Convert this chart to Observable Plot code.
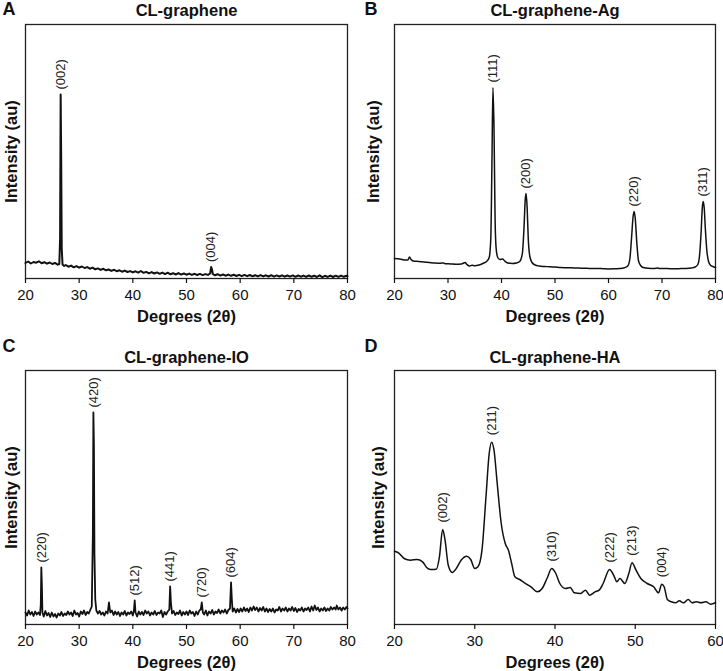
<!DOCTYPE html>
<html>
<head>
<meta charset="utf-8">
<script src="https://cdn.jsdelivr.net/npm/d3@7"></script>
<script src="https://cdn.jsdelivr.net/npm/@observablehq/plot@0.6"></script>
<style>
  html, body { margin: 0; padding: 0; background: #fff; }
  #root { position: relative; width: 723px; height: 671px; background: #fff; overflow: hidden; }
  .panel { position: absolute; }
  .panel svg { display: block; }
</style>
</head>
<body>
<div id="root"></div>
<script>
// ---------- Data (intensity in arbitrary units) ----------
const graphene = [
  [20.0,15.5],[20.5,17],[21.0,15],[21.5,16.5],[22.0,15.8],[22.5,17.2],[23.0,15.2],[23.5,16.3],[24.0,14.8],[24.5,16],
  [25.0,14.5],[25.5,15.6],[26.0,13.8],[26.3,14.5],[26.45,40],[26.55,184],[26.65,120],[26.75,30],[26.9,14],[27.2,12.5],
  [27.5,13.5],[28.0,11.8],[28.5,12.9],[29.0,11.2],[29.5,12.4],[30.0,10.8],[30.5,12],[31.0,10.5],[31.5,11.4],[32.0,9.8],
  [32.5,10.9],[33.0,9.2],[33.5,10.1],[34.0,8.6],[34.5,9.7],[35.0,8.2],[35.5,9],[36.0,7.6],[36.5,8.7],[37.0,7.3],
  [37.5,8.2],[38.0,6.8],[38.5,7.9],[39.0,6.5],[39.5,7.4],[40.0,6.1],[40.5,7.2],[41.0,5.9],[41.5,7.5],[42.0,5.7],
  [42.5,6.6],[43.0,5.2],[43.5,6.4],[44.0,5.0],[44.5,6.1],[45.0,4.7],[45.5,5.9],[46.0,4.4],[46.5,5.8],[47.0,4.2],
  [47.5,5.3],[48.0,4.0],[48.5,5.4],[49.0,3.9],[49.5,5],[50.0,3.8],[50.5,4.9],[51.0,3.6],[51.5,4.7],[52.0,3.5],
  [52.5,4.6],[53.0,3.4],[53.5,4.4],[54.0,3.6],[54.4,5],[54.6,11.5],[54.75,9],[54.9,4.5],[55.3,3.2],[55.8,4.3],
  [56.3,2.9],[56.8,4],[57.3,2.8],[57.8,3.9],[58.3,2.7],[58.8,3.8],[59.3,2.5],[59.8,3.7],[60.3,2.4],[60.8,3.6],
  [61.3,2.3],[61.8,3.5],[62.3,2.2],[62.8,3.3],[63.3,2.1],[63.8,3.4],[64.3,2.1],[64.8,3.2],[65.3,2],[65.8,3.3],
  [66.3,1.9],[66.8,3.1],[67.3,2.0],[67.8,3.2],[68.3,1.8],[68.8,3],[69.3,1.9],[69.8,3.1],[70.3,1.7],[70.8,3],
  [71.3,1.8],[71.8,2.9],[72.3,1.6],[72.8,3],[73.3,1.7],[73.8,2.8],[74.3,1.5],[74.8,3.2],[75.3,1.4],[75.8,2.7],
  [76.3,1.6],[76.8,2.9],[77.3,1.5],[77.8,2.8],[78.3,1.6],[78.8,2.9],[79.3,1.7],[79.8,2.8],[80.0,2.2]
];
const grapheneAg = [
  [20,20],[21,19.5],[22,18.5],[22.5,18.5],[22.8,21.5],[23.1,19],[23.5,17.5],[24.5,17],[25.5,16.5],[26.5,16],
  [27.5,15.5],[28.5,15.2],[29.2,15.6],[29.5,14.8],[30.5,14.6],[31.5,14.3],[32.5,14.5],[33.2,16],[33.5,14.2],[34,12.5],
  [34.5,13.3],[35,12.8],[35.8,13.5],[36.5,15],[37.2,17],[37.7,21],[38.0,40],[38.2,110],[38.4,191],[38.6,150],
  [38.8,60],[39.0,30],[39.3,21],[39.7,19],[40.2,19.5],[40.6,17.5],[41.2,15.5],[42,15],[42.8,15.5],[43.4,17],
  [43.9,25],[44.2,50],[44.45,80],[44.6,85],[44.8,70],[45.0,40],[45.3,22],[45.7,16],[46.3,13.5],[47,12.5],
  [48,12],[49,11.8],[50,11.5],[51,11],[52,10.8],[53,10.7],[54,10.5],[55,10.3],[56,10.2],[57,10],
  [58,10],[59,9.8],[60,9.6],[61,9.7],[62,10],[63,10.8],[63.6,12.5],[64.0,20],[64.3,40],[64.6,62],
  [64.8,67],[65.0,60],[65.3,35],[65.6,18],[66.0,13],[66.5,11],[67.5,10.2],[68.5,10],[69.2,10.5],[69.5,10],
  [70.5,10],[71.5,9.8],[72.5,9.8],[73.5,9.9],[74.5,10],[75.5,10.5],[76.2,11.5],[76.7,14],[77.0,22],[77.3,45],
  [77.55,72],[77.7,77],[77.9,70],[78.1,50],[78.4,27],[78.7,17],[79.1,13],[79.5,12],[80,11]
];
const grapheneIO = [
  [20.0,12],[20.3,9],[20.6,14],[20.9,10],[21.2,12.5],[21.5,8.5],[21.8,13],[22.1,10],[22.4,12],[22.7,9.5],
  [22.85,20],[22.95,57],[23.05,40],[23.15,12],[23.4,8],[23.7,13.5],[24.0,9],[24.3,11.5],[24.6,7.5],[24.9,12],
  [25.2,8],[25.5,10.5],[25.8,7],[26.1,11],[26.4,9],[26.7,12.5],[27.0,8.5],[27.3,11],[27.6,9.5],[27.9,13],
  [28.2,10],[28.5,12],[28.8,8.5],[29.1,14],[29.4,10],[29.7,11.5],[30.0,8],[30.3,13],[30.6,10.5],[30.9,14],
  [31.2,9.5],[31.5,12.5],[31.8,11],[32.1,15],[32.35,18],[32.55,90],[32.65,212],[32.75,180],[32.85,70],[33.0,25],
  [33.2,14],[33.5,11],[33.8,13.5],[34.1,10],[34.4,12],[34.7,9],[35.0,13],[35.3,11],[35.55,22],[35.8,12],
  [36.1,14],[36.4,9.5],[36.7,13],[37.0,10],[37.3,12.5],[37.6,8.5],[37.9,12],[38.2,10],[38.5,13.5],[38.8,9],
  [39.1,12],[39.4,10.5],[39.7,13],[40.0,9],[40.2,14],[40.35,24],[40.5,12],[40.8,8],[41.1,13],[41.4,10],
  [41.7,12.5],[42.0,9.5],[42.3,14],[42.6,11],[42.9,13],[43.2,9],[43.5,12],[43.8,10],[44.1,13.5],[44.4,9.5],
  [44.7,12],[45.0,11],[45.3,14],[45.6,7.5],[45.9,12.5],[46.2,10],[46.5,13],[46.8,15],[46.95,38],[47.1,22],
  [47.3,11],[47.6,13.5],[47.9,9.5],[48.2,12],[48.5,10.5],[48.8,14],[49.1,9],[49.4,12.5],[49.7,10],[50.0,13],
  [50.3,9.5],[50.6,14],[50.9,11],[51.2,12.5],[51.5,8.5],[51.8,13],[52.1,10],[52.4,14],[52.65,15],[52.85,22],
  [53.05,12],[53.3,10],[53.6,14],[53.9,9],[54.2,13],[54.5,11],[54.8,14.5],[55.1,10],[55.4,13],[55.7,11.5],
  [56.0,15],[56.3,11],[56.6,14],[56.9,12],[57.2,15],[57.5,11],[57.8,14.5],[58.1,16],[58.3,42],[58.45,25],
  [58.6,13],[58.9,16],[59.2,12],[59.5,15.5],[59.8,12.5],[60.1,16],[60.4,13],[60.7,17],[61.0,13.5],[61.3,16],
  [61.6,12.5],[61.9,17],[62.2,14],[62.5,18],[62.8,14.5],[63.1,17],[63.4,13],[63.7,16.5],[64.0,14],[64.3,17.5],
  [64.6,13],[64.9,16],[65.2,12.5],[65.5,15.5],[65.8,13],[66.1,16],[66.4,12],[66.7,15],[67.0,14],[67.3,17.5],
  [67.6,13],[67.9,16],[68.2,14],[68.5,17],[68.8,13],[69.1,16],[69.4,14],[69.7,17.5],[70.0,13.5],[70.3,16.5],
  [70.6,12.5],[70.9,15.5],[71.2,14],[71.5,17],[71.8,13],[72.1,16],[72.4,14.5],[72.7,17],[73.0,13],[73.3,18],
  [73.6,14],[73.9,19],[74.2,14.5],[74.5,17],[74.8,13],[75.1,16],[75.4,14],[75.7,17],[76.0,13.5],[76.3,16],
  [76.6,14],[76.9,17.5],[77.2,15],[77.5,17],[77.8,15],[78.0,19],[78.3,15],[78.6,17],[78.9,14],[79.2,17],
  [79.5,15],[79.8,17.5],[80.0,16]
];
const grapheneHA = [
  [20,73.3],[20.5,71.7],[21.2,66],[22,64.3],[22.8,65],[23.5,62.7],[24,57],[24.5,55],[25.2,55.3],[25.6,67.7],
  [26.0,95],[26.3,84.3],[26.7,59.3],[27.2,52],[27.7,56],[28.3,64.3],[29.0,68.3],[29.5,65],[30.0,56],[30.4,57.7],
  [30.9,74.3],[31.4,127.7],[31.8,171],[32.1,182.3],[32.4,174.3],[32.8,141],[33.3,101],[33.8,81],[34.2,74.3],[34.6,61],
  [35.0,47.7],[35.6,45],[36.2,41.7],[37.0,37.7],[37.8,32.7],[38.4,36],[39.0,46],[39.6,56],[40.1,51],[40.6,41],
  [41.3,36],[41.9,37],[42.4,31.7],[43.2,31],[43.8,34.3],[44.3,29.3],[45.0,32.7],[45.5,34.3],[46.0,41],[46.8,55],
  [47.4,47.7],[47.7,42.7],[48.1,46],[48.7,41],[49.2,51],[49.6,61.7],[50.1,54.3],[50.7,46],[51.5,41],[52.3,37.7],
  [52.9,31.7],[53.3,40.3],[53.6,37.7],[54.0,25],[54.5,22.7],[55.0,21.7],[55.5,23.7],[56.0,21.7],[56.6,25],[57.1,21.7],
  [57.6,22.7],[58.2,21.7],[58.8,22.7],[59.4,20.3],[60,21.7]
];

const peaksA = [{x: 26.55, y: 184, label: "(002)"}, {x: 54.6, y: 11.5, label: "(004)"}];
const peaksB = [{x: 38.4, y: 191, label: "(111)"}, {x: 44.6, y: 85, label: "(200)"},
                {x: 64.8, y: 67, label: "(220)"}, {x: 77.7, y: 77, label: "(311)"}];
const peaksC = [{x: 22.95, y: 57, label: "(220)"}, {x: 32.65, y: 212, label: "(420)"},
                {x: 40.35, y: 24, label: "(512)"}, {x: 46.95, y: 38, label: "(441)"},
                {x: 52.85, y: 22, label: "(720)"}, {x: 58.3, y: 42, label: "(604)"}];
const peaksD = [{x: 26.0, y: 95, label: "(002)"}, {x: 32.1, y: 182.3, label: "(211)"},
                {x: 39.6, y: 56, label: "(310)"}, {x: 46.8, y: 55, label: "(222)"},
                {x: 49.6, y: 61.7, label: "(213)"}, {x: 53.3, y: 40.3, label: "(004)"}];

const ticks2080 = [20, 30, 40, 50, 60, 70, 80];
const ticks2060 = [20, 30, 40, 50, 60];
const xLabel = "Degrees (2θ)";
const yLabel = "Intensity (au)";

// ---------- Drawing ----------
const FONT = "'Liberation Sans', Arial, Helvetica, sans-serif";
const FRAME_H = 254;

function panel(o) {
  return Plot.plot({
    width: 361,
    height: o.mt + FRAME_H + o.mb,
    marginLeft: o.ml, marginRight: o.mr, marginTop: o.mt, marginBottom: o.mb,
    x: {domain: o.domain, ticks: o.ticks},
    y: {domain: [0, 254], axis: null},
    style: {fontFamily: FONT, fontSize: "15px", color: "#111", background: "white"},
    marks: [
      Plot.frame({stroke: "#222", strokeWidth: 1.3}),
      Plot.axisX({ticks: o.ticks, tickSize: 5, tickPadding: 6, label: null, fontSize: 15, strokeWidth: 1.2}),
      Plot.line(o.data, {x: d => d[0], y: d => d[1], stroke: "#111", strokeWidth: o.sw,
                         strokeLinejoin: "round", curve: o.curve}),
      Plot.text(o.peaks, {x: "x", y: "y", text: "label", rotate: -90, textAnchor: "start", lineAnchor: "middle",
                          dy: o.labelGap, fontSize: 13, fill: "#222"}),
      Plot.text([o.title], {frameAnchor: "top", dy: o.titleDy, lineAnchor: "middle", textAnchor: "middle",
                            fontSize: 16.5, fontWeight: "bold", fill: "#111"}),
      Plot.text([o.letter], {frameAnchor: "top-left", dx: -o.ml + 2, dy: o.letterDy, textAnchor: "start",
                             lineAnchor: "middle", fontSize: 18, fontWeight: "bold", fill: "#111"}),
      Plot.text([xLabel], {frameAnchor: "bottom", dy: 38, lineAnchor: "middle", textAnchor: "middle",
                           fontSize: 16.5, fontWeight: "bold", fill: "#111"}),
      Plot.text([yLabel], {frameAnchor: "left", dx: o.ylabDx, rotate: -90, textAnchor: "middle", lineAnchor: "middle",
                           fontSize: 16.5, fontWeight: "bold", fill: "#111"})
    ]
  });
}

const specs = [
  {left: 0, top: 0, letter: "A", title: "CL-graphene", data: graphene, peaks: peaksA, domain: [20, 80], ticks: ticks2080,
   ml: 25, mr: 14, mt: 24, mb: 48, titleDy: -14, letterDy: -15, ylabDx: -14, sw: 2, labelGap: -5, curve: "linear"},
  {left: 362, top: 0, letter: "B", title: "CL-graphene-Ag", data: grapheneAg, peaks: peaksB, domain: [20, 80], ticks: ticks2080,
   ml: 32, mr: 8, mt: 24, mb: 48, titleDy: -14, letterDy: -15, ylabDx: -21, sw: 1.5, labelGap: -5, curve: "monotone-x"},
  {left: 0, top: 336, letter: "C", title: "CL-graphene-IO", data: grapheneIO, peaks: peaksC, domain: [20, 80], ticks: ticks2080,
   ml: 25, mr: 14, mt: 34, mb: 47, titleDy: -13, letterDy: -24, ylabDx: -14, sw: 1.8, labelGap: -5, curve: "linear"},
  {left: 362, top: 336, letter: "D", title: "CL-graphene-HA", data: grapheneHA, peaks: peaksD, domain: [20, 60], ticks: ticks2060,
   ml: 32, mr: 8, mt: 34, mb: 47, titleDy: -13, letterDy: -24, ylabDx: -16, sw: 1.5, labelGap: -7, curve: "monotone-x"}
];

const root = document.getElementById("root");
for (const s of specs) {
  const div = document.createElement("div");
  div.className = "panel";
  div.style.left = s.left + "px";
  div.style.top = s.top + "px";
  div.appendChild(panel(s));
  root.appendChild(div);
}
</script>
</body>
</html>
